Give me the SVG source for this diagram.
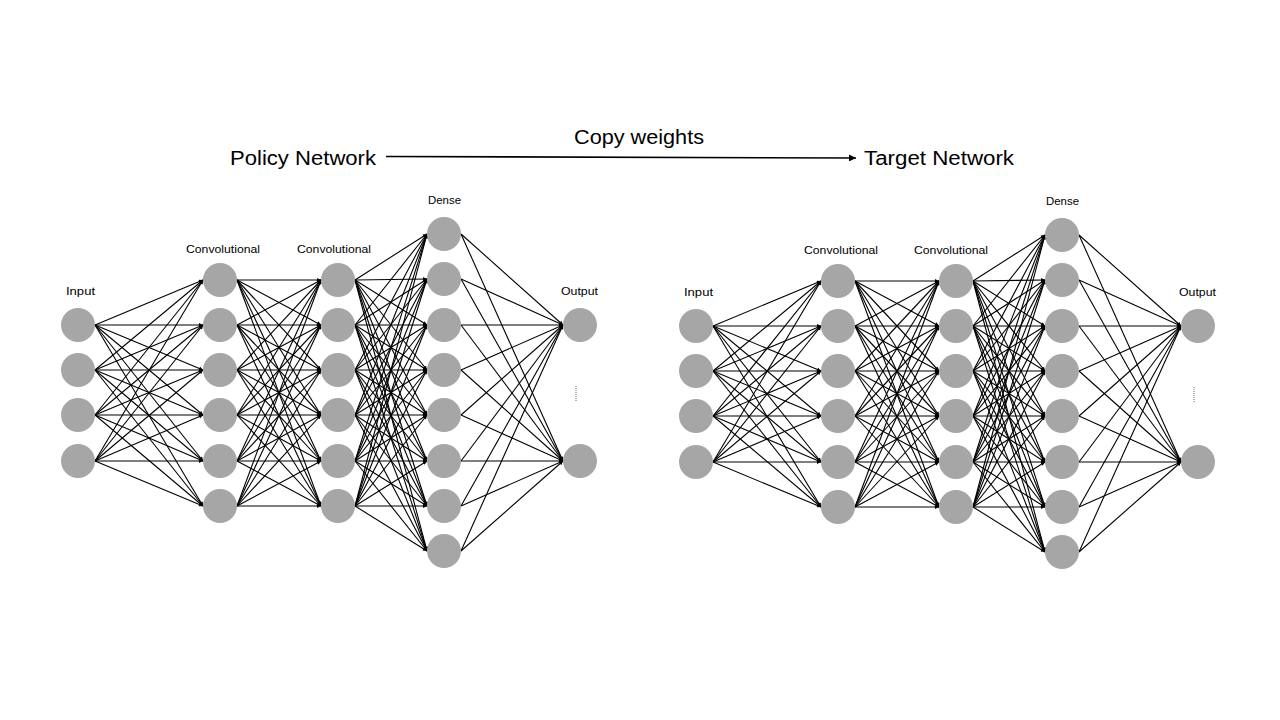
<svg xmlns="http://www.w3.org/2000/svg" width="1280" height="720" viewBox="0 0 1280 720">
<style>
.bg{fill:#ffffff}
.node{fill:#a6a6a6}
.conn line{stroke:#000;stroke-width:1.1;marker-end:url(#ah)}
.lbl{font-family:"Liberation Sans",Arial,sans-serif;font-size:11.5px;fill:#000;text-anchor:middle}
.big{font-family:"Liberation Sans",Arial,sans-serif;font-size:20px;fill:#000}
.dots{stroke:#808080;stroke-width:1.2;stroke-dasharray:1 1}
</style>
<defs>
<marker id="ah" viewBox="0 0 10 10" refX="10" refY="5" markerWidth="5" markerHeight="4" markerUnits="userSpaceOnUse" orient="auto">
<path d="M0 0L10 5L0 10z" fill="#000"/>
</marker>
<marker id="ahBig" viewBox="0 0 10 10" refX="10" refY="5" markerWidth="9" markerHeight="7" markerUnits="userSpaceOnUse" orient="auto">
<path d="M0 0L10 5L0 10z" fill="#000"/>
</marker>
</defs>
<rect class="bg" x="0" y="0" width="1280" height="720"/>

<g id="titles">
<text class="big" x="574" y="144" textLength="130" lengthAdjust="spacingAndGlyphs">Copy weights</text>
<text class="big" x="230" y="165" textLength="146" lengthAdjust="spacingAndGlyphs">Policy Network</text>
<text class="big" x="864" y="165" textLength="150" lengthAdjust="spacingAndGlyphs">Target Network</text>
</g>
<g id="copy-arrow">
<line x1="386" y1="156.5" x2="856" y2="158" stroke="#000" stroke-width="1.6" marker-end="url(#ahBig)"/>
</g>

<g id="policy-network">
<g id="policy-connectors" class="conn">
<line x1="95" y1="325" x2="203" y2="280"/><line x1="95" y1="325" x2="203" y2="325"/><line x1="95" y1="325" x2="203" y2="370"/><line x1="95" y1="325" x2="203" y2="415"/><line x1="95" y1="325" x2="203" y2="461"/><line x1="95" y1="325" x2="203" y2="506"/>
<line x1="95" y1="370" x2="203" y2="280"/><line x1="95" y1="370" x2="203" y2="325"/><line x1="95" y1="370" x2="203" y2="370"/><line x1="95" y1="370" x2="203" y2="415"/><line x1="95" y1="370" x2="203" y2="461"/><line x1="95" y1="370" x2="203" y2="506"/>
<line x1="95" y1="415" x2="203" y2="280"/><line x1="95" y1="415" x2="203" y2="325"/><line x1="95" y1="415" x2="203" y2="370"/><line x1="95" y1="415" x2="203" y2="415"/><line x1="95" y1="415" x2="203" y2="461"/><line x1="95" y1="415" x2="203" y2="506"/>
<line x1="95" y1="461" x2="203" y2="280"/><line x1="95" y1="461" x2="203" y2="325"/><line x1="95" y1="461" x2="203" y2="370"/><line x1="95" y1="461" x2="203" y2="415"/><line x1="95" y1="461" x2="203" y2="461"/><line x1="95" y1="461" x2="203" y2="506"/>

<line x1="237" y1="280" x2="321" y2="280"/><line x1="237" y1="280" x2="321" y2="325"/><line x1="237" y1="280" x2="321" y2="370"/><line x1="237" y1="280" x2="321" y2="415"/><line x1="237" y1="280" x2="321" y2="461"/><line x1="237" y1="280" x2="321" y2="506"/>
<line x1="237" y1="325" x2="321" y2="280"/><line x1="237" y1="325" x2="321" y2="325"/><line x1="237" y1="325" x2="321" y2="370"/><line x1="237" y1="325" x2="321" y2="415"/><line x1="237" y1="325" x2="321" y2="461"/><line x1="237" y1="325" x2="321" y2="506"/>
<line x1="237" y1="370" x2="321" y2="280"/><line x1="237" y1="370" x2="321" y2="325"/><line x1="237" y1="370" x2="321" y2="370"/><line x1="237" y1="370" x2="321" y2="415"/><line x1="237" y1="370" x2="321" y2="461"/><line x1="237" y1="370" x2="321" y2="506"/>
<line x1="237" y1="415" x2="321" y2="280"/><line x1="237" y1="415" x2="321" y2="325"/><line x1="237" y1="415" x2="321" y2="370"/><line x1="237" y1="415" x2="321" y2="415"/><line x1="237" y1="415" x2="321" y2="461"/><line x1="237" y1="415" x2="321" y2="506"/>
<line x1="237" y1="461" x2="321" y2="280"/><line x1="237" y1="461" x2="321" y2="325"/><line x1="237" y1="461" x2="321" y2="370"/><line x1="237" y1="461" x2="321" y2="415"/><line x1="237" y1="461" x2="321" y2="461"/><line x1="237" y1="461" x2="321" y2="506"/>
<line x1="237" y1="506" x2="321" y2="280"/><line x1="237" y1="506" x2="321" y2="325"/><line x1="237" y1="506" x2="321" y2="370"/><line x1="237" y1="506" x2="321" y2="415"/><line x1="237" y1="506" x2="321" y2="461"/><line x1="237" y1="506" x2="321" y2="506"/>

<line x1="355" y1="280" x2="427" y2="234"/><line x1="355" y1="280" x2="427" y2="279"/><line x1="355" y1="280" x2="427" y2="325"/><line x1="355" y1="280" x2="427" y2="370"/><line x1="355" y1="280" x2="427" y2="415"/><line x1="355" y1="280" x2="427" y2="461"/><line x1="355" y1="280" x2="427" y2="506"/><line x1="355" y1="280" x2="427" y2="551"/>
<line x1="355" y1="325" x2="427" y2="234"/><line x1="355" y1="325" x2="427" y2="279"/><line x1="355" y1="325" x2="427" y2="325"/><line x1="355" y1="325" x2="427" y2="370"/><line x1="355" y1="325" x2="427" y2="415"/><line x1="355" y1="325" x2="427" y2="461"/><line x1="355" y1="325" x2="427" y2="506"/><line x1="355" y1="325" x2="427" y2="551"/>
<line x1="355" y1="370" x2="427" y2="234"/><line x1="355" y1="370" x2="427" y2="279"/><line x1="355" y1="370" x2="427" y2="325"/><line x1="355" y1="370" x2="427" y2="370"/><line x1="355" y1="370" x2="427" y2="415"/><line x1="355" y1="370" x2="427" y2="461"/><line x1="355" y1="370" x2="427" y2="506"/><line x1="355" y1="370" x2="427" y2="551"/>
<line x1="355" y1="415" x2="427" y2="234"/><line x1="355" y1="415" x2="427" y2="279"/><line x1="355" y1="415" x2="427" y2="325"/><line x1="355" y1="415" x2="427" y2="370"/><line x1="355" y1="415" x2="427" y2="415"/><line x1="355" y1="415" x2="427" y2="461"/><line x1="355" y1="415" x2="427" y2="506"/><line x1="355" y1="415" x2="427" y2="551"/>
<line x1="355" y1="461" x2="427" y2="234"/><line x1="355" y1="461" x2="427" y2="279"/><line x1="355" y1="461" x2="427" y2="325"/><line x1="355" y1="461" x2="427" y2="370"/><line x1="355" y1="461" x2="427" y2="415"/><line x1="355" y1="461" x2="427" y2="461"/><line x1="355" y1="461" x2="427" y2="506"/><line x1="355" y1="461" x2="427" y2="551"/>
<line x1="355" y1="506" x2="427" y2="234"/><line x1="355" y1="506" x2="427" y2="279"/><line x1="355" y1="506" x2="427" y2="325"/><line x1="355" y1="506" x2="427" y2="370"/><line x1="355" y1="506" x2="427" y2="415"/><line x1="355" y1="506" x2="427" y2="461"/><line x1="355" y1="506" x2="427" y2="506"/><line x1="355" y1="506" x2="427" y2="551"/>

<line x1="461" y1="234" x2="563" y2="325"/><line x1="461" y1="234" x2="563" y2="461"/>
<line x1="461" y1="279" x2="563" y2="325"/><line x1="461" y1="279" x2="563" y2="461"/>
<line x1="461" y1="325" x2="563" y2="325"/><line x1="461" y1="325" x2="563" y2="461"/>
<line x1="461" y1="370" x2="563" y2="325"/><line x1="461" y1="370" x2="563" y2="461"/>
<line x1="461" y1="415" x2="563" y2="325"/><line x1="461" y1="415" x2="563" y2="461"/>
<line x1="461" y1="461" x2="563" y2="325"/><line x1="461" y1="461" x2="563" y2="461"/>
<line x1="461" y1="506" x2="563" y2="325"/><line x1="461" y1="506" x2="563" y2="461"/>
<line x1="461" y1="551" x2="563" y2="325"/><line x1="461" y1="551" x2="563" y2="461"/>
</g>
<g id="policy-labels">
<text class="lbl" x="80.5" y="295" textLength="29" lengthAdjust="spacingAndGlyphs">Input</text>
<text class="lbl" x="223" y="253" textLength="74" lengthAdjust="spacingAndGlyphs">Convolutional</text>
<text class="lbl" x="334" y="253" textLength="74" lengthAdjust="spacingAndGlyphs">Convolutional</text>
<text class="lbl" x="444.5" y="204" textLength="33" lengthAdjust="spacingAndGlyphs">Dense</text>
<text class="lbl" x="579.5" y="295" textLength="37" lengthAdjust="spacingAndGlyphs">Output</text>
</g>
<g id="p-in-1"><circle class="node" cx="78" cy="325" r="17"/></g>
<g id="p-in-2"><circle class="node" cx="78" cy="370" r="17"/></g>
<g id="p-in-3"><circle class="node" cx="78" cy="415" r="17"/></g>
<g id="p-in-4"><circle class="node" cx="78" cy="461" r="17"/></g>
<g id="p-c1-1"><circle class="node" cx="220" cy="280" r="17"/></g>
<g id="p-c1-2"><circle class="node" cx="220" cy="325" r="17"/></g>
<g id="p-c1-3"><circle class="node" cx="220" cy="370" r="17"/></g>
<g id="p-c1-4"><circle class="node" cx="220" cy="415" r="17"/></g>
<g id="p-c1-5"><circle class="node" cx="220" cy="461" r="17"/></g>
<g id="p-c1-6"><circle class="node" cx="220" cy="506" r="17"/></g>
<g id="p-c2-1"><circle class="node" cx="338" cy="280" r="17"/></g>
<g id="p-c2-2"><circle class="node" cx="338" cy="325" r="17"/></g>
<g id="p-c2-3"><circle class="node" cx="338" cy="370" r="17"/></g>
<g id="p-c2-4"><circle class="node" cx="338" cy="415" r="17"/></g>
<g id="p-c2-5"><circle class="node" cx="338" cy="461" r="17"/></g>
<g id="p-c2-6"><circle class="node" cx="338" cy="506" r="17"/></g>
<g id="p-d-1"><circle class="node" cx="444" cy="234" r="17"/></g>
<g id="p-d-2"><circle class="node" cx="444" cy="279" r="17"/></g>
<g id="p-d-3"><circle class="node" cx="444" cy="325" r="17"/></g>
<g id="p-d-4"><circle class="node" cx="444" cy="370" r="17"/></g>
<g id="p-d-5"><circle class="node" cx="444" cy="415" r="17"/></g>
<g id="p-d-6"><circle class="node" cx="444" cy="461" r="17"/></g>
<g id="p-d-7"><circle class="node" cx="444" cy="506" r="17"/></g>
<g id="p-d-8"><circle class="node" cx="444" cy="551" r="17"/></g>
<g id="p-out-1"><circle class="node" cx="580" cy="325" r="17"/></g>
<g id="p-out-2"><circle class="node" cx="580" cy="461" r="17"/></g>
<line class="dots" x1="576" y1="386" x2="576" y2="401"/>
</g>

<g id="target-network" transform="translate(618,1)">
<g id="target-connectors" class="conn">
<line x1="95" y1="325" x2="203" y2="280"/><line x1="95" y1="325" x2="203" y2="325"/><line x1="95" y1="325" x2="203" y2="370"/><line x1="95" y1="325" x2="203" y2="415"/><line x1="95" y1="325" x2="203" y2="461"/><line x1="95" y1="325" x2="203" y2="506"/>
<line x1="95" y1="370" x2="203" y2="280"/><line x1="95" y1="370" x2="203" y2="325"/><line x1="95" y1="370" x2="203" y2="370"/><line x1="95" y1="370" x2="203" y2="415"/><line x1="95" y1="370" x2="203" y2="461"/><line x1="95" y1="370" x2="203" y2="506"/>
<line x1="95" y1="415" x2="203" y2="280"/><line x1="95" y1="415" x2="203" y2="325"/><line x1="95" y1="415" x2="203" y2="370"/><line x1="95" y1="415" x2="203" y2="415"/><line x1="95" y1="415" x2="203" y2="461"/><line x1="95" y1="415" x2="203" y2="506"/>
<line x1="95" y1="461" x2="203" y2="280"/><line x1="95" y1="461" x2="203" y2="325"/><line x1="95" y1="461" x2="203" y2="370"/><line x1="95" y1="461" x2="203" y2="415"/><line x1="95" y1="461" x2="203" y2="461"/><line x1="95" y1="461" x2="203" y2="506"/>

<line x1="237" y1="280" x2="321" y2="280"/><line x1="237" y1="280" x2="321" y2="325"/><line x1="237" y1="280" x2="321" y2="370"/><line x1="237" y1="280" x2="321" y2="415"/><line x1="237" y1="280" x2="321" y2="461"/><line x1="237" y1="280" x2="321" y2="506"/>
<line x1="237" y1="325" x2="321" y2="280"/><line x1="237" y1="325" x2="321" y2="325"/><line x1="237" y1="325" x2="321" y2="370"/><line x1="237" y1="325" x2="321" y2="415"/><line x1="237" y1="325" x2="321" y2="461"/><line x1="237" y1="325" x2="321" y2="506"/>
<line x1="237" y1="370" x2="321" y2="280"/><line x1="237" y1="370" x2="321" y2="325"/><line x1="237" y1="370" x2="321" y2="370"/><line x1="237" y1="370" x2="321" y2="415"/><line x1="237" y1="370" x2="321" y2="461"/><line x1="237" y1="370" x2="321" y2="506"/>
<line x1="237" y1="415" x2="321" y2="280"/><line x1="237" y1="415" x2="321" y2="325"/><line x1="237" y1="415" x2="321" y2="370"/><line x1="237" y1="415" x2="321" y2="415"/><line x1="237" y1="415" x2="321" y2="461"/><line x1="237" y1="415" x2="321" y2="506"/>
<line x1="237" y1="461" x2="321" y2="280"/><line x1="237" y1="461" x2="321" y2="325"/><line x1="237" y1="461" x2="321" y2="370"/><line x1="237" y1="461" x2="321" y2="415"/><line x1="237" y1="461" x2="321" y2="461"/><line x1="237" y1="461" x2="321" y2="506"/>
<line x1="237" y1="506" x2="321" y2="280"/><line x1="237" y1="506" x2="321" y2="325"/><line x1="237" y1="506" x2="321" y2="370"/><line x1="237" y1="506" x2="321" y2="415"/><line x1="237" y1="506" x2="321" y2="461"/><line x1="237" y1="506" x2="321" y2="506"/>

<line x1="355" y1="280" x2="427" y2="234"/><line x1="355" y1="280" x2="427" y2="279"/><line x1="355" y1="280" x2="427" y2="325"/><line x1="355" y1="280" x2="427" y2="370"/><line x1="355" y1="280" x2="427" y2="415"/><line x1="355" y1="280" x2="427" y2="461"/><line x1="355" y1="280" x2="427" y2="506"/><line x1="355" y1="280" x2="427" y2="551"/>
<line x1="355" y1="325" x2="427" y2="234"/><line x1="355" y1="325" x2="427" y2="279"/><line x1="355" y1="325" x2="427" y2="325"/><line x1="355" y1="325" x2="427" y2="370"/><line x1="355" y1="325" x2="427" y2="415"/><line x1="355" y1="325" x2="427" y2="461"/><line x1="355" y1="325" x2="427" y2="506"/><line x1="355" y1="325" x2="427" y2="551"/>
<line x1="355" y1="370" x2="427" y2="234"/><line x1="355" y1="370" x2="427" y2="279"/><line x1="355" y1="370" x2="427" y2="325"/><line x1="355" y1="370" x2="427" y2="370"/><line x1="355" y1="370" x2="427" y2="415"/><line x1="355" y1="370" x2="427" y2="461"/><line x1="355" y1="370" x2="427" y2="506"/><line x1="355" y1="370" x2="427" y2="551"/>
<line x1="355" y1="415" x2="427" y2="234"/><line x1="355" y1="415" x2="427" y2="279"/><line x1="355" y1="415" x2="427" y2="325"/><line x1="355" y1="415" x2="427" y2="370"/><line x1="355" y1="415" x2="427" y2="415"/><line x1="355" y1="415" x2="427" y2="461"/><line x1="355" y1="415" x2="427" y2="506"/><line x1="355" y1="415" x2="427" y2="551"/>
<line x1="355" y1="461" x2="427" y2="234"/><line x1="355" y1="461" x2="427" y2="279"/><line x1="355" y1="461" x2="427" y2="325"/><line x1="355" y1="461" x2="427" y2="370"/><line x1="355" y1="461" x2="427" y2="415"/><line x1="355" y1="461" x2="427" y2="461"/><line x1="355" y1="461" x2="427" y2="506"/><line x1="355" y1="461" x2="427" y2="551"/>
<line x1="355" y1="506" x2="427" y2="234"/><line x1="355" y1="506" x2="427" y2="279"/><line x1="355" y1="506" x2="427" y2="325"/><line x1="355" y1="506" x2="427" y2="370"/><line x1="355" y1="506" x2="427" y2="415"/><line x1="355" y1="506" x2="427" y2="461"/><line x1="355" y1="506" x2="427" y2="506"/><line x1="355" y1="506" x2="427" y2="551"/>

<line x1="461" y1="234" x2="563" y2="325"/><line x1="461" y1="234" x2="563" y2="461"/>
<line x1="461" y1="279" x2="563" y2="325"/><line x1="461" y1="279" x2="563" y2="461"/>
<line x1="461" y1="325" x2="563" y2="325"/><line x1="461" y1="325" x2="563" y2="461"/>
<line x1="461" y1="370" x2="563" y2="325"/><line x1="461" y1="370" x2="563" y2="461"/>
<line x1="461" y1="415" x2="563" y2="325"/><line x1="461" y1="415" x2="563" y2="461"/>
<line x1="461" y1="461" x2="563" y2="325"/><line x1="461" y1="461" x2="563" y2="461"/>
<line x1="461" y1="506" x2="563" y2="325"/><line x1="461" y1="506" x2="563" y2="461"/>
<line x1="461" y1="551" x2="563" y2="325"/><line x1="461" y1="551" x2="563" y2="461"/>
</g>
<g id="target-labels">
<text class="lbl" x="80.5" y="295" textLength="29" lengthAdjust="spacingAndGlyphs">Input</text>
<text class="lbl" x="223" y="253" textLength="74" lengthAdjust="spacingAndGlyphs">Convolutional</text>
<text class="lbl" x="333" y="253" textLength="74" lengthAdjust="spacingAndGlyphs">Convolutional</text>
<text class="lbl" x="444.5" y="204" textLength="33" lengthAdjust="spacingAndGlyphs">Dense</text>
<text class="lbl" x="579.5" y="295" textLength="37" lengthAdjust="spacingAndGlyphs">Output</text>
</g>
<g id="t-in-1"><circle class="node" cx="78" cy="325" r="17"/></g>
<g id="t-in-2"><circle class="node" cx="78" cy="370" r="17"/></g>
<g id="t-in-3"><circle class="node" cx="78" cy="415" r="17"/></g>
<g id="t-in-4"><circle class="node" cx="78" cy="461" r="17"/></g>
<g id="t-c1-1"><circle class="node" cx="220" cy="280" r="17"/></g>
<g id="t-c1-2"><circle class="node" cx="220" cy="325" r="17"/></g>
<g id="t-c1-3"><circle class="node" cx="220" cy="370" r="17"/></g>
<g id="t-c1-4"><circle class="node" cx="220" cy="415" r="17"/></g>
<g id="t-c1-5"><circle class="node" cx="220" cy="461" r="17"/></g>
<g id="t-c1-6"><circle class="node" cx="220" cy="506" r="17"/></g>
<g id="t-c2-1"><circle class="node" cx="338" cy="280" r="17"/></g>
<g id="t-c2-2"><circle class="node" cx="338" cy="325" r="17"/></g>
<g id="t-c2-3"><circle class="node" cx="338" cy="370" r="17"/></g>
<g id="t-c2-4"><circle class="node" cx="338" cy="415" r="17"/></g>
<g id="t-c2-5"><circle class="node" cx="338" cy="461" r="17"/></g>
<g id="t-c2-6"><circle class="node" cx="338" cy="506" r="17"/></g>
<g id="t-d-1"><circle class="node" cx="444" cy="234" r="17"/></g>
<g id="t-d-2"><circle class="node" cx="444" cy="279" r="17"/></g>
<g id="t-d-3"><circle class="node" cx="444" cy="325" r="17"/></g>
<g id="t-d-4"><circle class="node" cx="444" cy="370" r="17"/></g>
<g id="t-d-5"><circle class="node" cx="444" cy="415" r="17"/></g>
<g id="t-d-6"><circle class="node" cx="444" cy="461" r="17"/></g>
<g id="t-d-7"><circle class="node" cx="444" cy="506" r="17"/></g>
<g id="t-d-8"><circle class="node" cx="444" cy="551" r="17"/></g>
<g id="t-out-1"><circle class="node" cx="580" cy="325" r="17"/></g>
<g id="t-out-2"><circle class="node" cx="580" cy="461" r="17"/></g>
<line class="dots" x1="576" y1="386" x2="576" y2="401"/>
</g>
</svg>
